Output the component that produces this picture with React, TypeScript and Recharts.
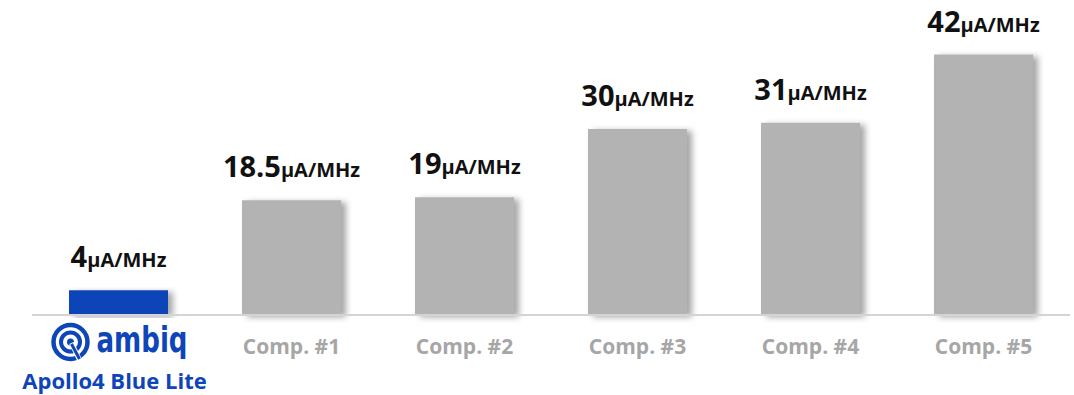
import { BarChart, Bar, XAxis, YAxis, Cell, LabelList } from 'recharts';

const categories = ['Apollo4 Blue Lite', 'Comp. #1', 'Comp. #2', 'Comp. #3', 'Comp. #4', 'Comp. #5'];
const values = [4, 18.5, 19, 30, 31, 42];
const unit = 'μA/MHz';

const data = categories.map((name, i) => ({ name, value: values[i] }));

const BLUE = '#0e45b8';
const GRAY = '#b3b3b3';
const FONT = '"Open Sans", Lato, sans-serif';

const ValueLabel = (props: any) => {
  const { x, y, width, value } = props;
  return (
    <text x={x + width / 2} y={y - 23} textAnchor="middle" fontFamily={FONT} fontWeight={700} fill="#111">
      <tspan fontSize={29}>{value}</tspan>
      <tspan fontSize={20}>{unit}</tspan>
    </text>
  );
};

const Tick = (props: any) => {
  const { x, y, payload, index } = props;
  if (index === 0) {
    return (
      <g>
        <g transform={`translate(${x - 48}, ${y + 19})`} fill="none" stroke={BLUE}>
          <circle r={17} strokeWidth={4.5} />
          <circle r={9.5} strokeWidth={4} />
          <circle r={3.5} fill={BLUE} stroke="none" />
          <line x1={1} y1={1} x2={9} y2={18} strokeWidth={5} stroke="#fff" />
          <line x1={1} y1={2} x2={9} y2={17} strokeWidth={3} />
        </g>
        <text x={x + 23.5} y={y + 29} textAnchor="middle" fontFamily='"DejaVu Sans", sans-serif'
          fontWeight={700} fontSize={36} fill={BLUE} textLength={91} lengthAdjust="spacingAndGlyphs">ambiq</text>
        <text x={x - 4} y={y + 66} textAnchor="middle" fontFamily={FONT} fontWeight={700} fontSize={22} fill={BLUE}>
          {payload.value}
        </text>
      </g>
    );
  }
  return (
    <text x={x} y={y + 31} textAnchor="middle" fontFamily={FONT} fontWeight={700} fontSize={21} fill="#a6a6a6">
      {payload.value}
    </text>
  );
};

export default function App() {
  return (
    <div style={{ position: 'absolute', left: 0, top: 0, width: 1074, height: 395, background: '#fff' }}>
      <BarChart width={1074} height={395} data={data} margin={{ top: 5, right: 4, bottom: 0, left: 32 }} barSize={99}>
        <defs>
          <filter id="shadow" x="-10%" y="-10%" width="130%" height="120%">
            <feDropShadow dx={5} dy={2} stdDeviation={3} floodColor="#000" floodOpacity={0.35} />
          </filter>
        </defs>
        <YAxis hide domain={[0, 50]} />
        <XAxis dataKey="name" height={80} interval={0} tickLine={false} stroke="#d4d4d4" strokeWidth={2} tick={<Tick />} />
        <Bar dataKey="value" isAnimationActive={false} filter="url(#shadow)">
          {data.map((d, i) => (
            <Cell key={d.name} fill={i === 0 ? BLUE : GRAY} />
          ))}
          <LabelList dataKey="value" content={<ValueLabel />} />
        </Bar>
      </BarChart>
    </div>
  );
}
